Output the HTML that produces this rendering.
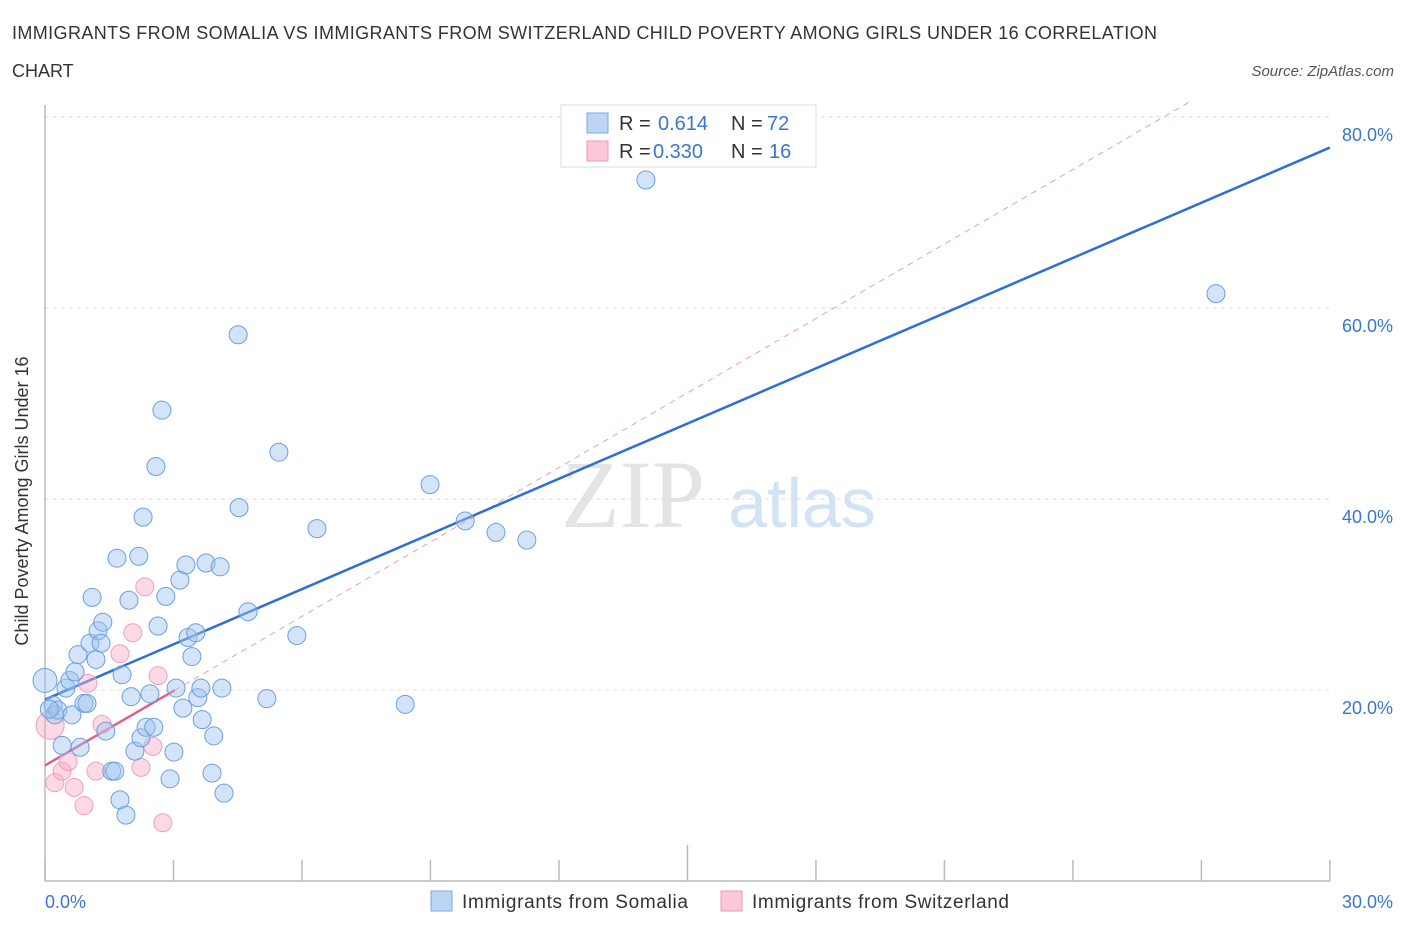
<!DOCTYPE html>
<html><head><meta charset="utf-8"><style>
body{margin:0;background:#fff;font-family:"Liberation Sans",sans-serif;}
svg{display:block}
</style></head><body>
<svg id="chart" width="1406" height="930">
<text x="12" y="39" font-size="18" fill="#333" textLength="1145">IMMIGRANTS FROM SOMALIA VS IMMIGRANTS FROM SWITZERLAND CHILD POVERTY AMONG GIRLS UNDER 16 CORRELATION</text>
<text x="12" y="77" font-size="18" fill="#333">CHART</text>
<text x="1394" y="76" font-size="15" fill="#555" font-style="italic" text-anchor="end">Source: ZipAtlas.com</text>
<text x="633" y="527" font-size="96" fill="#e4e4e4" text-anchor="middle" font-family="Liberation Serif,serif">ZIP</text>
<text x="802" y="527" font-size="70" fill="#d3e2f5" text-anchor="middle">atlas</text>
<g id="grid"></g>
<g id="ticks"></g>
<line x1="45" y1="105" x2="45" y2="881" stroke="#bbb" stroke-width="1.5"/>
<line x1="45" y1="881" x2="1330" y2="881" stroke="#bbb" stroke-width="1.5"/>
<g id="lines"></g>
<g id="points"></g>
<text x="21" y="494" font-size="18" fill="#333" text-anchor="middle" transform="rotate(-90 28 494)">Child Poverty Among Girls Under 16</text>
<text x="45" y="908" font-size="18" fill="#3a76d0">0.0%</text>
<text x="1393" y="908" font-size="18" fill="#3a76d0" text-anchor="end">30.0%</text>
<g>
<rect x="561" y="105" width="255" height="62" fill="#fff" stroke="#ddd"/>
<rect x="587" y="113" width="21" height="20" fill="#bcd5f5" stroke="#7aa7e4"/>
<rect x="587" y="141" width="21" height="20" fill="#fcc8d8" stroke="#eb9ab3"/>
<text x="619" y="130" font-size="20" fill="#333">R = </text><text x="658" y="130" font-size="20" fill="#3a76d0">0.614</text>
<text x="731" y="130" font-size="20" fill="#333">N = </text><text x="767" y="130" font-size="20" fill="#3a76d0">72</text>
<text x="619" y="158" font-size="20" fill="#333">R = </text><text x="653" y="158" font-size="20" fill="#3a76d0">0.330</text>
<text x="731" y="158" font-size="20" fill="#333">N = </text><text x="769" y="158" font-size="20" fill="#3a76d0">16</text>
</g>
<g>
<rect x="431" y="891" width="21" height="20" fill="#bcd5f5" stroke="#7aa7e4"/>
<text x="462" y="908" font-size="19" fill="#333" textLength="226">Immigrants from Somalia</text></g>
<g>
<rect x="721" y="891" width="21" height="20" fill="#fcc8d8" stroke="#eb9ab3"/>
<text x="752" y="908" font-size="19" fill="#333" textLength="257">Immigrants from Switzerland</text></g>
</svg>
<script>
const yTicks=[20,40,60,80];
const xTicks=[0,3,6,9,12,15,18,21,24,27,30];
const somaliaX=[0,0.19,0.23,0.30,0.40,0.49,0.58,0.63,0.70,0.77,0.82,0.91,0.98,1.05,1.10,1.19,1.24,1.31,1.35,1.42,1.56,1.63,1.68,1.75,1.80,1.89,1.96,2.01,2.10,2.19,2.24,2.29,2.36,2.45,2.54,2.59,2.64,2.73,2.82,2.92,3.01,3.06,3.15,3.22,3.29,3.34,3.43,3.52,3.57,3.64,3.67,3.76,3.90,3.94,4.09,4.13,4.18,4.51,4.53,4.74,5.18,5.46,5.88,6.35,8.41,8.99,9.81,10.53,11.25,14.03,27.34,0.1];
const somaliaY=[21.0,18.4,17.4,17.9,14.2,20.2,21.0,17.4,21.9,23.7,14.0,18.6,18.6,24.9,29.7,23.2,26.2,24.9,27.1,15.7,11.5,11.5,33.8,8.5,21.6,6.9,29.4,19.3,13.6,34.0,15.0,38.1,16.1,19.6,16.1,43.4,26.7,49.3,29.8,10.7,13.5,20.2,31.5,18.1,33.1,25.5,23.5,26.0,19.2,20.2,16.9,33.3,11.3,15.2,32.9,20.2,9.2,57.2,39.1,28.2,19.1,44.9,25.7,36.9,18.5,41.5,37.7,36.5,35.7,73.4,61.5,18.0];
const swissX=[0.12,0.23,0.40,0.54,0.68,0.91,1.0,1.19,1.33,1.75,2.05,2.24,2.33,2.52,2.64,2.75];
const swissY=[16.3,10.3,11.5,12.5,9.8,7.9,20.7,11.5,16.4,23.8,26.0,11.9,30.8,14.1,21.5,6.1];
const somaliaFit=[19.0,76.8];
const swissFit=[12.1,2.6];
const X=v=>45+v*42.83, Y=v=>881-v*9.55;
const NS='http://www.w3.org/2000/svg';
function mk(t,a,p){const e=document.createElementNS(NS,t);for(const k in a)e.setAttribute(k,a[k]);document.getElementById(p).appendChild(e);return e;}
yTicks.forEach(v=>{
const l=mk('line',{x1:45,x2:1330,y1:Y(v),y2:Y(v),stroke:'#ddd','stroke-dasharray':'4,4'},'grid');


const t=mk('text',{x:1393,y:Y(v)+24,'font-size':18,fill:'#3a76d0','text-anchor':'end'},'grid');
t.textContent=v.toFixed(1)+'%';


});
xTicks.forEach(v=>{
const l=mk('line',{x1:X(v),x2:X(v),y1:v==15?845:860,y2:881,stroke:'#bbb','stroke-width':1.5},'ticks');


});
const d=mk('line',{x1:X(3.03),y1:Y(swissFit[0]+swissFit[1]*3.03),x2:X(26.7),y2:Y(swissFit[0]+swissFit[1]*26.7),stroke:'#e8a0b8','stroke-dasharray':'6,5','stroke-width':1},'lines');


const b=mk('line',{x1:X(0),y1:Y(somaliaFit[0]),x2:X(30),y2:Y(somaliaFit[1]),stroke:'#2c6fd8','stroke-width':2.5},'lines');


const p=mk('line',{x1:X(0),y1:Y(swissFit[0]),x2:X(3.03),y2:Y(swissFit[0]+swissFit[1]*3.03),stroke:'#e0608a','stroke-width':2.5},'lines');


swissX.forEach((x,i)=>{
const c=mk('circle',{cx:X(x),cy:Y(swissY[i]),r:i==0?14:9,fill:'rgba(249,170,195,0.45)',stroke:'#f0a0bb','stroke-width':1},'points');


});
somaliaX.forEach((x,i)=>{
const c=mk('circle',{cx:X(x),cy:Y(somaliaY[i]),r:i==0?12:9,fill:'rgba(160,195,240,0.45)',stroke:'#6a9fe0','stroke-width':1},'points');


});
</script>
</body></html>
